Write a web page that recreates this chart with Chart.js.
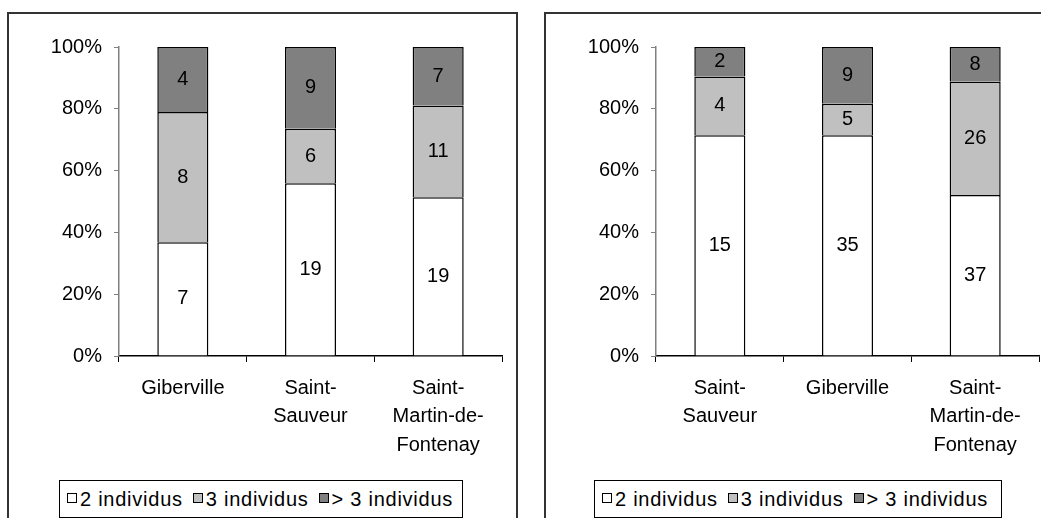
<!DOCTYPE html>
<html>
<head>
<meta charset="utf-8">
<script src="https://cdn.jsdelivr.net/npm/chart.js@4.4.1/dist/chart.umd.min.js"></script>
<style>
  body { margin: 0; background: #fff; width: 1041px; height: 518px; overflow: hidden; position: relative;
         font-family: "Liberation Sans", Arial, sans-serif; }
  .panel { position: absolute; top: 12px; height: 540px; border: 2px solid #333; box-sizing: border-box; }
  canvas { position: absolute; }
  .legend { position: absolute; top: 480px; height: 38px; border: 1px solid #000; box-sizing: border-box;
            display: flex; align-items: center; font-size: 20px; letter-spacing: 0.75px; background: #fff; color: #000; }
  .legend .item { display: flex; align-items: center; line-height: 20px; }
  .legend .sq { display: inline-block; width: 10px; height: 10px; border: 1px solid #000; box-sizing: border-box;
                margin-right: 3px; position: relative; top: -1px; }
</style>
</head>
<body>
<div class="panel" style="left:7px; width:511px;"></div>
<div class="panel" style="left:544px; width:520px;"></div>
<canvas id="chartLeft" width="506" height="466" style="left:9px; top:14px;"></canvas>
<canvas id="chartRight" width="500" height="466" style="left:546px; top:14px;"></canvas>
<div class="legend" id="legendLeft" style="left:59px; width:404px;"></div>
<div class="legend" id="legendRight" style="left:594px; width:408px;"></div>
<script>
// Données du graphique de gauche (nombre de ménages)
const leftVillages = ['Giberville', ['Saint-', 'Sauveur'], ['Saint-', 'Martin-de-', 'Fontenay']];
const leftTwo = [7, 19, 19];
const leftThree = [8, 6, 11];
const leftMore = [4, 9, 7];

// Données du graphique de droite
const rightVillages = [['Saint-', 'Sauveur'], 'Giberville', ['Saint-', 'Martin-de-', 'Fontenay']];
const rightTwo = [15, 35, 37];
const rightThree = [4, 5, 26];
const rightMore = [2, 9, 8];

const seriesNames = ['2 individus', '3 individus', '> 3 individus'];
const seriesColors = ['#ffffff', '#c0c0c0', '#808080'];

const FONT = '"Liberation Sans", Arial, sans-serif';

// Affiche les effectifs au centre de chaque segment
const countLabels = {
    id: 'countLabels',
    afterDatasetsDraw(chart) {
        const ctx = chart.ctx;
        ctx.save();
        ctx.font = '20px ' + FONT;
        ctx.fillStyle = '#000';
        ctx.textAlign = 'center';
        ctx.textBaseline = 'middle';
        chart.data.datasets.forEach((ds, i) => {
            chart.getDatasetMeta(i).data.forEach((bar, j) => {
                ctx.fillText(String(ds.counts[j]), bar.x, (bar.y + bar.base) / 2);
            });
        });
        ctx.restore();
    }
};

function toPercent(series, all) {
    return series.map((v, j) => {
        const total = all.reduce((s, a) => s + a[j], 0);
        return v / total * 100;
    });
}

function makeChart(id, labels, two, three, more, padRight) {
    const all = [two, three, more];
    const datasets = all.map((counts, i) => ({
        label: seriesNames[i],
        data: toPercent(counts, all),
        counts: counts,
        backgroundColor: seriesColors[i],
        borderColor: '#000',
        borderWidth: 1.5,
        borderSkipped: 'bottom',
        barPercentage: 0.4,
        categoryPercentage: 1
    }));
    return new Chart(document.getElementById(id), {
        type: 'bar',
        data: { labels: labels, datasets: datasets },
        options: {
            responsive: false,
            animation: false,
            layout: { padding: { left: 0, right: padRight, top: 33, bottom: 0 } },
            plugins: { legend: { display: false }, tooltip: { enabled: false } },
            scales: {
                x: {
                    stacked: true,
                    grid: { drawOnChartArea: false, tickLength: 6, color: '#000', offset: true },
                    border: { color: '#000', width: 1.5 },
                    ticks: { color: '#000', padding: 12, maxRotation: 0, autoSkip: false,
                             font: { family: FONT, size: 20, lineHeight: 1.425 } },
                    afterFit(scale) { scale.height = 124; }
                },
                y: {
                    stacked: true,
                    min: 0,
                    max: 100,
                    grid: { drawOnChartArea: false, tickLength: 5, color: '#808080' },
                    border: { color: '#808080', width: 1.5 },
                    ticks: { stepSize: 20, color: '#000', padding: 12,
                             font: { family: FONT, size: 20 },
                             callback: v => v + '%' },
                    afterFit(scale) { scale.width = 110; }
                }
            }
        },
        plugins: [countLabels]
    });
}

function buildLegend(id, gap) {
    const el = document.getElementById(id);
    seriesNames.forEach((name, i) => {
        const item = document.createElement('span');
        item.className = 'item';
        item.style.marginLeft = (i === 0 ? 7 : gap) + 'px';
        const sq = document.createElement('span');
        sq.className = 'sq';
        sq.style.background = seriesColors[i];
        item.appendChild(sq);
        item.appendChild(document.createTextNode(name));
        el.appendChild(item);
    });
}

makeChart('chartLeft', leftVillages, leftTwo, leftThree, leftMore, 13);
makeChart('chartRight', rightVillages, rightTwo, rightThree, rightMore, 7);
buildLegend('legendLeft', 10);
buildLegend('legendRight', 10);
</script>
</body>
</html>
